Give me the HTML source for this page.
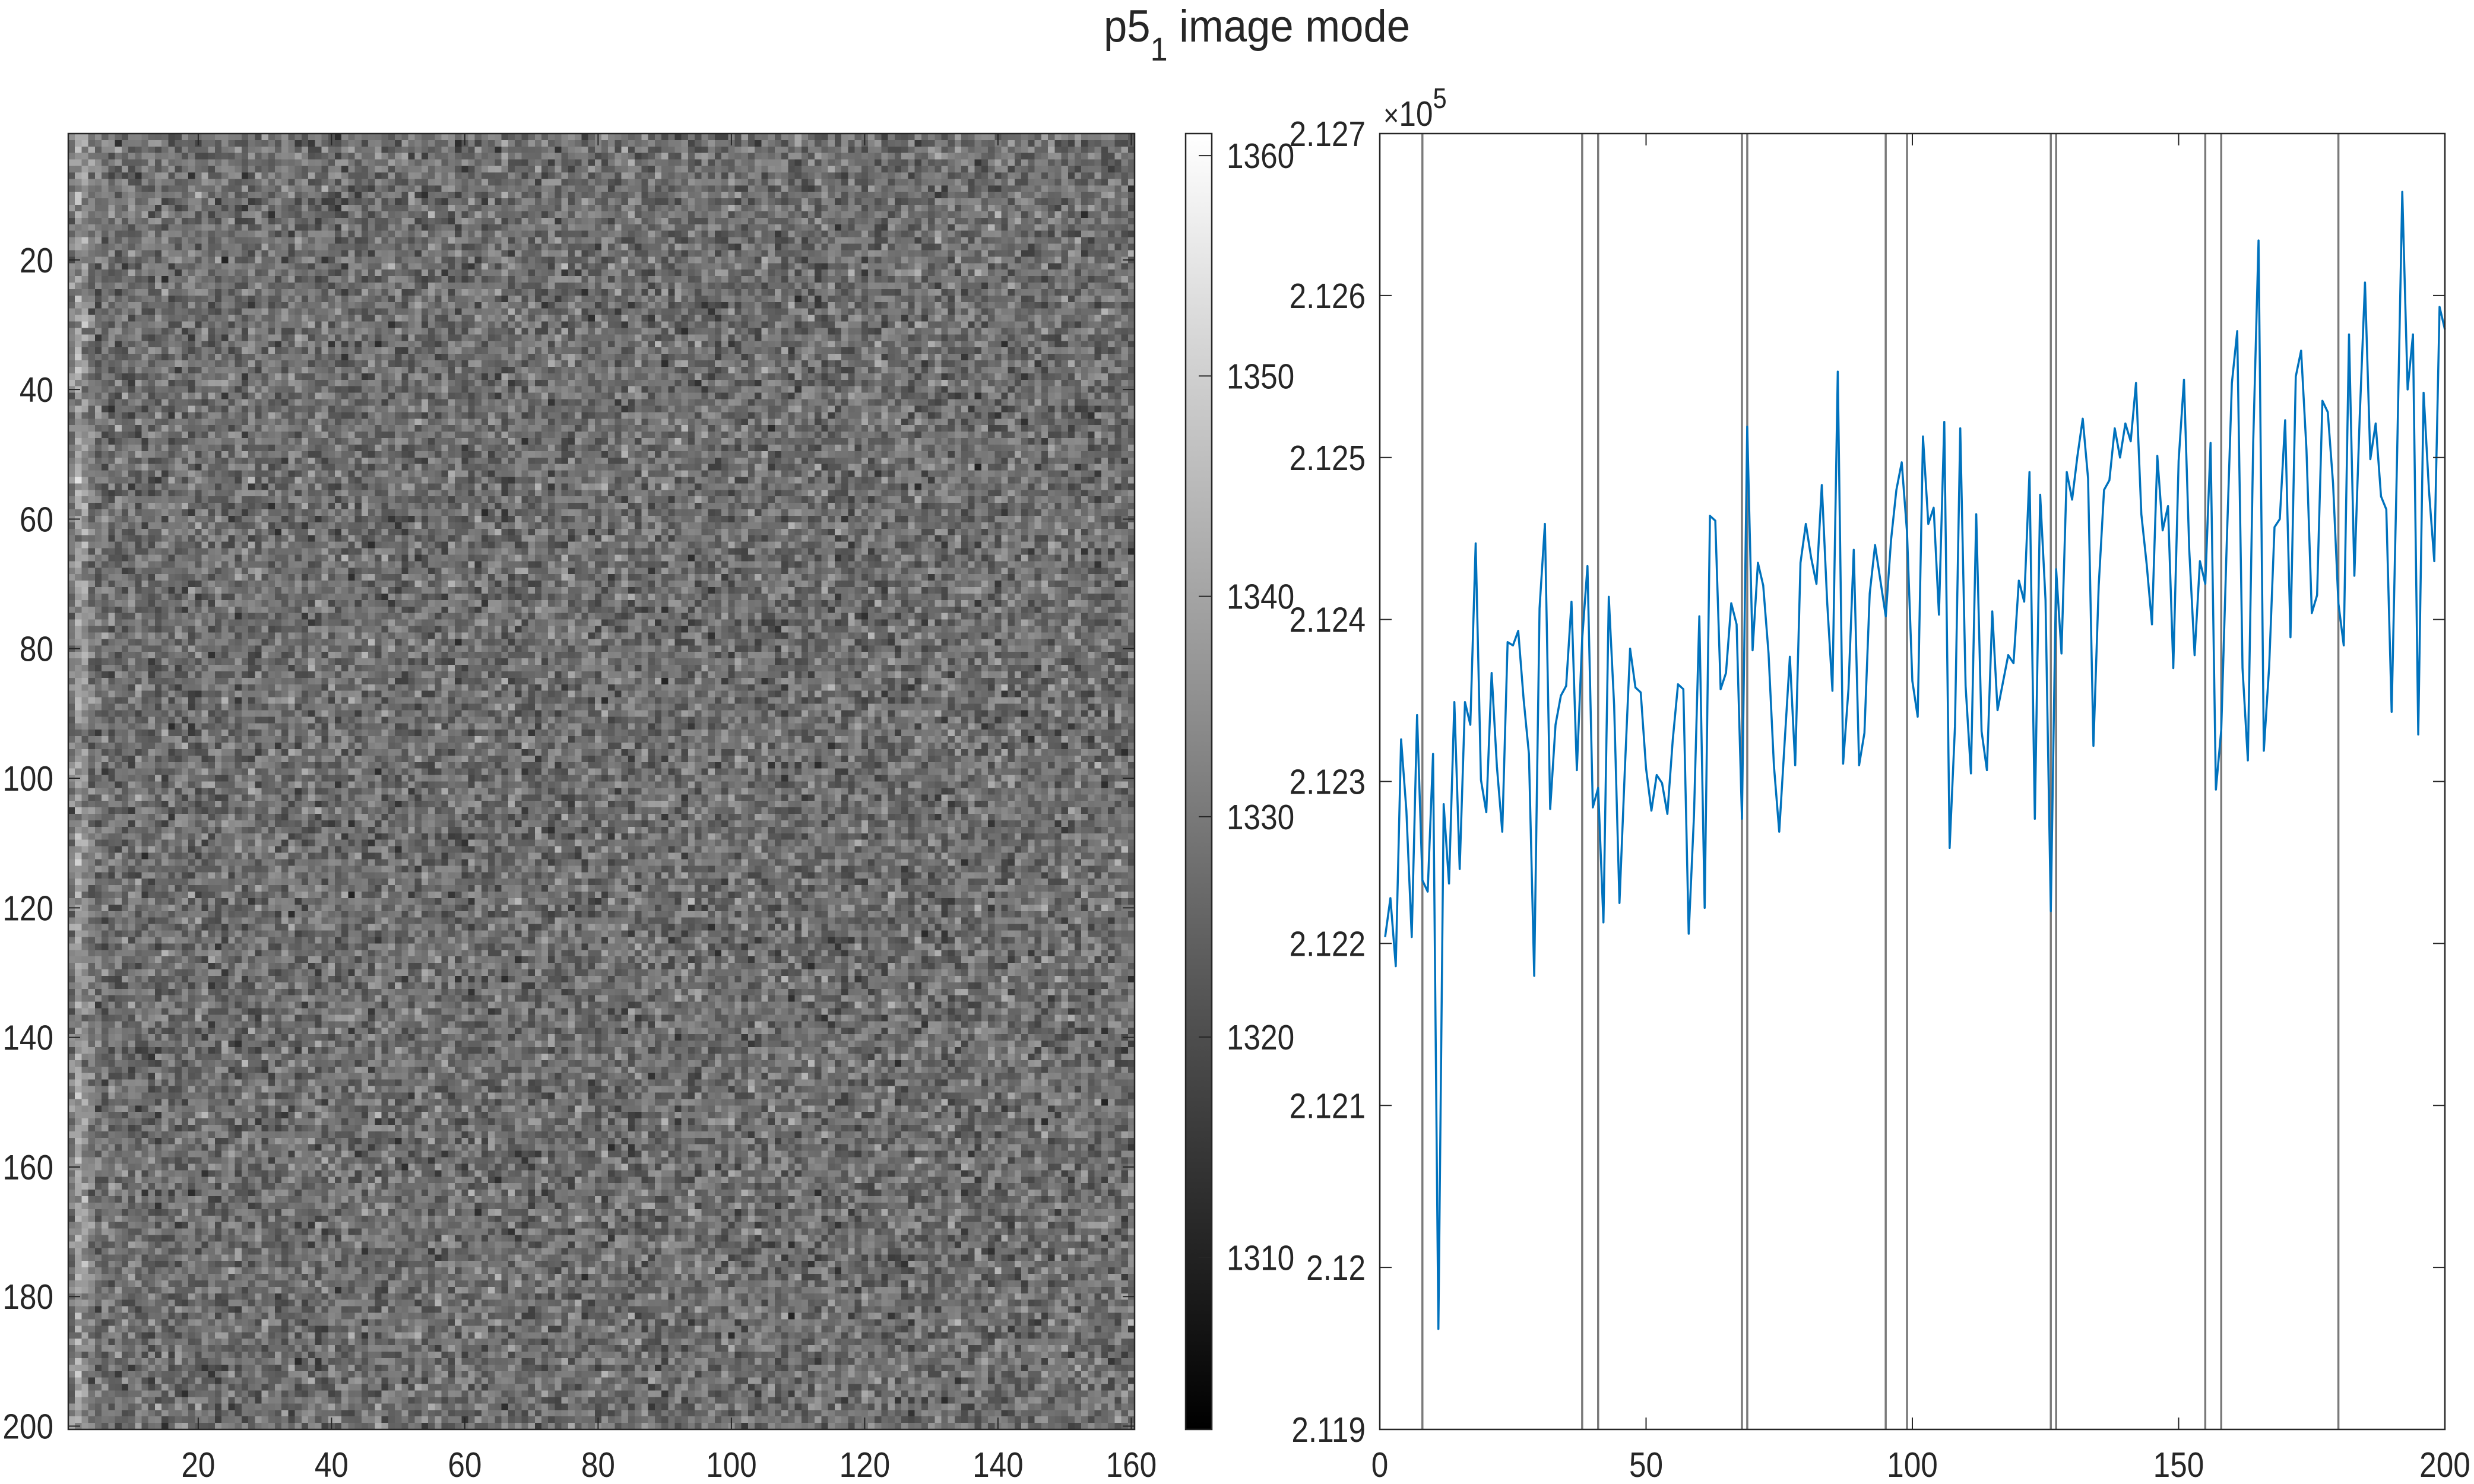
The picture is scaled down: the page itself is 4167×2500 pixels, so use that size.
<!DOCTYPE html>
<html><head><meta charset="utf-8"><style>
html,body{margin:0;padding:0;background:#fff;}
#wrap{position:relative;width:4167px;height:2500px;overflow:hidden;background:#fff;font-family:"Liberation Sans",sans-serif;}
#heat{position:absolute;left:115px;top:225px;width:1796px;height:2183px;image-rendering:pixelated;}
svg{position:absolute;left:0;top:0;}
text{font-family:"Liberation Sans",sans-serif;fill:#262626;}
</style></head><body>
<div id="wrap">
<canvas id="heat" width="160" height="200"></canvas>
<svg id="svg" width="4167" height="2500">
<text transform="translate(2117,70) scale(0.93,1)" x="0" y="0" font-size="76" text-anchor="middle">p5<tspan font-size="56" dy="32">1</tspan><tspan dy="-32"> image mode</tspan></text>
</svg>
</div>
<script>
// ---- data ----
const imgCols = 160;
const imgRows = 200;
const colorMin = 1302.2;
const colorMax = 1361.0;
const imgMean = 1328;
const colOffsets = [2, 10, 8, 3];
const cbTicks = [1310, 1320, 1330, 1340, 1350, 1360];
const imgXTicks = [20, 40, 60, 80, 100, 120, 140, 160];
const imgYTicks = [20, 40, 60, 80, 100, 120, 140, 160, 180, 200];
// line chart: values in units of 1e-4 above 2.12 (x1e5 axis)
const lineVals = [20.4,22.8,18.6,32.6,28.2,20.4,34.1,23.9,23.2,31.7,-3.8,28.6,23.7,34.9,24.6,34.9,33.5,44.7,30.1,28.1,
36.7,30.9,26.9,38.6,38.4,39.3,35.1,31.7,18.0,40.7,45.9,28.3,33.5,35.3,35.9,41.1,30.7,38.8,43.3,28.4,
29.6,21.3,41.4,34.7,22.5,30.6,38.2,35.8,35.5,30.8,28.2,30.4,29.9,28.0,32.5,36.0,35.7,20.6,27.9,40.2,
22.2,46.4,46.1,35.7,36.7,41.0,39.7,27.7,51.9,38.1,43.5,42.1,37.9,31.0,26.9,32.3,37.7,31.0,43.5,45.9,
43.8,42.2,48.3,41.1,35.6,55.3,31.1,35.7,44.3,31.0,33.0,41.6,44.6,42.4,40.2,44.9,48.0,49.7,45.4,36.2,
34.0,51.3,45.9,46.9,40.3,52.2,25.9,33.4,51.8,35.9,30.5,46.5,33.1,30.7,40.5,34.4,36.1,37.8,37.3,42.4,
41.1,49.1,27.7,47.7,41.2,22.0,43.1,37.9,49.1,47.4,50.1,52.4,48.7,32.2,42.1,48.0,48.6,51.8,50.0,52.1,
51.0,54.6,46.5,43.4,39.7,50.1,45.5,47.0,37.0,49.8,54.8,44.3,37.8,43.6,42.2,50.9,29.5,33.2,44.3,54.6,
57.8,37.0,31.3,50.9,63.4,31.9,37.1,45.7,46.2,52.3,38.9,55.0,56.6,50.5,40.4,41.5,53.5,52.8,48.4,41.0,
38.4,57.6,42.7,52.5,60.8,49.9,52.1,47.6,46.8,34.3,49.8,66.4,54.2,57.6,32.9,54.0,48.0,43.6,59.3,57.9];
const vLines = [8, 38, 41, 68, 69, 95, 99, 126, 127, 155, 158, 180];
const lineXTicks = [0, 50, 100, 150, 200];
const lineYTicks = [2.119, 2.12, 2.121, 2.122, 2.123, 2.124, 2.125, 2.126, 2.127];
const lineYLabels = ["2.119","2.12","2.121","2.122","2.123","2.124","2.125","2.126","2.127"];

// ---- layout ----
const IM = {l:115, r:1911, t:225, b:2408};
const CB = {l:1997, r:2041, t:225, b:2408};
const LA = {l:2324, r:4118, t:225, b:2408};
const FS = 59;
const SX = 0.87;
const NS = 'http://www.w3.org/2000/svg';
const svg = document.getElementById('svg');
function mk(tag, attrs, parent){const e=document.createElementNS(NS,tag);for(const k in attrs)e.setAttribute(k,attrs[k]);(parent||svg).appendChild(e);return e;}
function label(x,y,anchor,parent){return mk('text',{transform:'translate('+x+','+y+') scale('+SX+',1)',x:0,y:0,'font-size':FS,'text-anchor':anchor},parent);}

// heatmap (deterministic pseudo-noise texture)
let seed = 12345;
function rnd(){seed=(seed*1103515245+12345)%2147483648;return seed/2147483648;}
const cv=document.getElementById('heat');const ctx=cv.getContext('2d');
const id=ctx.createImageData(imgCols,imgRows);
for(let r=0;r<imgRows;r++){for(let c=0;c<imgCols;c++){
  const n=(rnd()+rnd()+rnd()+rnd()-2)*10;
  const v=imgMean+n+(c<colOffsets.length?colOffsets[c]:0);
  let g=Math.round((v-colorMin)/(colorMax-colorMin)*255);g=Math.max(0,Math.min(255,g));
  const i=(r*imgCols+c)*4;id.data[i]=g;id.data[i+1]=g;id.data[i+2]=g;id.data[i+3]=255;}}
ctx.putImageData(id,0,0);

// image axes
const colX=c=>IM.l+(c-0.5)*(IM.r-IM.l)/imgCols;
const rowY=r=>IM.t+(r-0.5)*(IM.b-IM.t)/imgRows;
const gI=mk('g',{});


mk('rect',{x:IM.l,y:IM.t,width:IM.r-IM.l,height:IM.b-IM.t,fill:'none',stroke:'#262626','stroke-width':2.5},gI);
imgXTicks.forEach(t=>{const x=colX(t);
  mk('line',{x1:x,x2:x,y1:IM.b,y2:IM.b-20,stroke:'#262626','stroke-width':2},gI);
  mk('line',{x1:x,x2:x,y1:IM.t,y2:IM.t+20,stroke:'#262626','stroke-width':2},gI);
  const tx=label(x,2488,'middle',gI);tx.textContent=t;
  });
imgYTicks.forEach(t=>{const y=rowY(t);
  mk('line',{x1:IM.l,x2:IM.l+20,y1:y,y2:y,stroke:'#262626','stroke-width':2},gI);
  mk('line',{x1:IM.r,x2:IM.r-20,y1:y,y2:y,stroke:'#262626','stroke-width':2},gI);
  const tx=label(90,y+21,'end',gI);tx.textContent=t;
  });

// colorbar
const defs=mk('defs',{});const lg=mk('linearGradient',{id:'cbg',x1:0,y1:0,x2:0,y2:1},defs);
mk('stop',{offset:0,'stop-color':'#fff'},lg);mk('stop',{offset:1,'stop-color':'#000'},lg);
const gC=mk('g',{});


mk('rect',{x:CB.l,y:CB.t,width:CB.r-CB.l,height:CB.b-CB.t,fill:'url(#cbg)',stroke:'#262626','stroke-width':2.5},gC);
const cbY=v=>CB.b-(v-colorMin)/(colorMax-colorMin)*(CB.b-CB.t);
cbTicks.forEach(t=>{const y=cbY(t);
  mk('line',{x1:CB.r-22,x2:CB.r,y1:y,y2:y,stroke:'#262626','stroke-width':2},gC);
  const tx=label(2066,y+21,'start',gC);tx.textContent=t;
  });

// line chart
const lx=v=>LA.l+v/200*(LA.r-LA.l);
const ly=v=>LA.b-(v-2.119)/0.008*(LA.b-LA.t);
const gL=mk('g',{});


vLines.forEach(v=>{const l=mk('line',{x1:lx(v),x2:lx(v),y1:LA.t,y2:LA.b,stroke:'#7a7a7a','stroke-width':3.5},gL);
  });
const pts=lineVals.map((v,i)=>lx(i+1).toFixed(1)+','+ly(2.12+v*1e-4).toFixed(1)).join(' ');
const pl=mk('polyline',{points:pts,fill:'none',stroke:'#0072BD','stroke-width':3.5,'stroke-linejoin':'round'},gL);


mk('rect',{x:LA.l,y:LA.t,width:LA.r-LA.l,height:LA.b-LA.t,fill:'none',stroke:'#262626','stroke-width':2.5},gL);
lineXTicks.forEach(t=>{const x=lx(t);
  mk('line',{x1:x,x2:x,y1:LA.b,y2:LA.b-20,stroke:'#262626','stroke-width':2},gL);
  mk('line',{x1:x,x2:x,y1:LA.t,y2:LA.t+20,stroke:'#262626','stroke-width':2},gL);
  const tx=label(x,2488,'middle',gL);tx.textContent=t;
  });
lineYTicks.forEach((t,i)=>{const y=ly(t);
  mk('line',{x1:LA.l,x2:LA.l+20,y1:y,y2:y,stroke:'#262626','stroke-width':2},gL);
  mk('line',{x1:LA.r,x2:LA.r-20,y1:y,y2:y,stroke:'#262626','stroke-width':2},gL);
  const tx=label(2300,y+21,'end',gL);tx.textContent=lineYLabels[i];
  });
const ex=label(2330,212,'start',gL);
ex.innerHTML='<tspan font-size="52">×</tspan>10<tspan font-size="48" dy="-30">5</tspan>';


</script>
</body></html>
